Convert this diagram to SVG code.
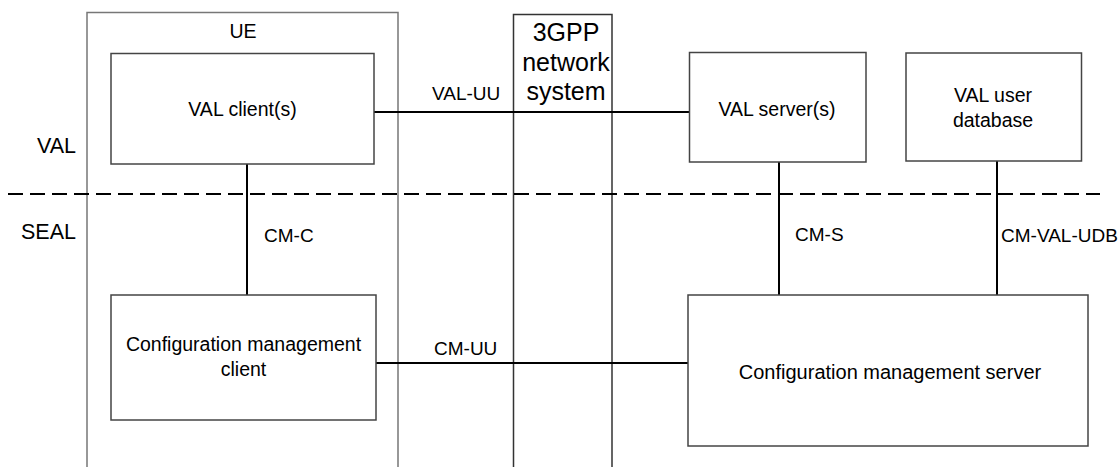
<svg xmlns="http://www.w3.org/2000/svg" width="1119" height="467" viewBox="0 0 1119 467">
<style>
  .frame { fill: none; stroke: #777; stroke-width: 1.5; }
  .box { fill: #fff; stroke: #444; stroke-width: 1.5; }
  .conn { stroke: #000; stroke-width: 2; fill: none; }
  .dash { stroke: #000; stroke-width: 2; stroke-dasharray: 15 7; fill: none; }
  text { font-family: "Liberation Sans", Arial, sans-serif; fill: #000; }
  .lbl { font-size: 19.5px; text-anchor: middle; }
  .ifc { font-size: 19px; }
  .layer { font-size: 21.5px; text-anchor: end; }
  .net { font-size: 25px; text-anchor: middle; }
</style>
<rect width="1119" height="467" fill="#fff"/>

<g id="ue">
  <path class="frame" d="M87,470 V12.5 H398 V470"/>
  <text class="lbl" x="243" y="38">UE</text>
</g>

<g id="network">
  <path class="frame" style="stroke:#333" d="M513.5,470 V14.5 H612 V470"/>
  <text class="net" x="566" y="41">3GPP</text>
  <text class="net" x="566" y="71">network</text>
  <text class="net" x="566" y="100">system</text>
</g>

<g id="layers">
  <line class="dash" x1="8" y1="194" x2="1100" y2="194"/>
  <text class="layer" x="76" y="153">VAL</text>
  <text class="layer" x="76" y="239">SEAL</text>
</g>

<g id="connectors">
  <line class="conn" x1="374" y1="112" x2="689" y2="112"/>
  <line class="conn" x1="376" y1="363" x2="688" y2="363"/>
  <line class="conn" x1="247" y1="164" x2="247" y2="295"/>
  <line class="conn" x1="779" y1="162" x2="779" y2="295"/>
  <line class="conn" x1="997" y1="161" x2="997" y2="295"/>
  <text class="ifc" x="432" y="100">VAL-UU</text>
  <text class="ifc" x="434" y="355">CM-UU</text>
  <text class="ifc" x="264" y="242">CM-C</text>
  <text class="ifc" x="795" y="241">CM-S</text>
  <text class="ifc" x="1001" y="242">CM-VAL-UDB</text>
</g>

<g id="val-client">
  <rect class="box" x="111" y="53.5" width="263" height="110.5"/>
  <text class="lbl" x="242.5" y="116">VAL client(s)</text>
</g>

<g id="val-server">
  <rect class="box" x="689.5" y="52.5" width="176.5" height="109.5"/>
  <text class="lbl" x="777" y="116">VAL server(s)</text>
</g>

<g id="val-user-db">
  <rect class="box" x="906" y="53" width="175.5" height="108"/>
  <text class="lbl" x="993" y="102">VAL user</text>
  <text class="lbl" x="993" y="127">database</text>
</g>

<g id="cm-client">
  <rect class="box" x="111" y="295" width="265" height="125"/>
  <text class="lbl" x="243.5" y="351">Configuration management</text>
  <text class="lbl" x="243.5" y="376">client</text>
</g>

<g id="cm-server">
  <rect class="box" x="688" y="295" width="400" height="151"/>
  <text class="lbl" style="font-size:20px" x="890" y="379">Configuration management server</text>
</g>
</svg>
